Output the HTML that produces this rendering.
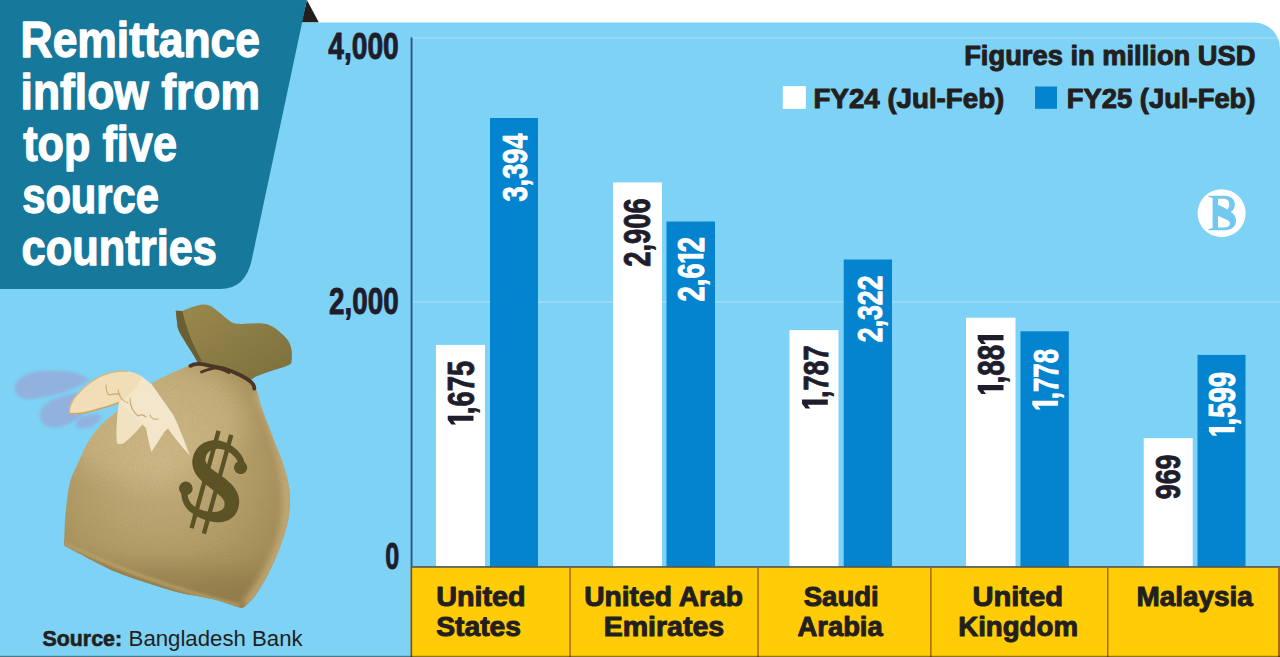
<!DOCTYPE html>
<html lang="en">
<head>
<meta charset="utf-8">
<title>Remittance inflow from top five source countries</title>
<style>
  html, body { margin: 0; padding: 0; background: #ffffff; }
  body { width: 1280px; height: 657px; overflow: hidden; position: relative;
         font-family: "Liberation Sans", sans-serif; }
  svg { display: block; position: absolute; left: 0; top: 0; }
  text { font-family: "Liberation Sans", sans-serif; }
  .num { font-weight: bold; font-size: 36px; stroke-width: 0.9px; stroke-linejoin: round; }
  .dk { fill: #1f1d2b; stroke: #1f1d2b; }
  .wh { fill: #ffffff; stroke: #ffffff; }
  .lab { font-weight: bold; font-size: 27.5px; fill: #231f20; stroke: #231f20; stroke-width: 1.0px; stroke-linejoin: round; }
  .ttl { font-weight: bold; font-size: 50px; fill: #ffffff; stroke: #ffffff; stroke-width: 1.3px; stroke-linejoin: round; }
</style>
</head>
<body>
<svg width="1280" height="657" viewBox="0 0 1280 657">
  <defs>
    <radialGradient id="bagG" cx="0.42" cy="0.40" r="0.70">
      <stop offset="0" stop-color="#c7b282"/>
      <stop offset="0.55" stop-color="#b39d68"/>
      <stop offset="1" stop-color="#9e8753"/>
    </radialGradient>
    <linearGradient id="neckG" x1="0" y1="0" x2="1" y2="1">
      <stop offset="0" stop-color="#9a8a4e"/>
      <stop offset="1" stop-color="#7c6f3d"/>
    </linearGradient>
    <filter id="blur12" x="-30%" y="-30%" width="160%" height="160%"><feGaussianBlur stdDeviation="12"/></filter>
    <filter id="blur4" x="-30%" y="-30%" width="160%" height="160%"><feGaussianBlur stdDeviation="3.5"/></filter>
    <filter id="blur2" x="-30%" y="-30%" width="160%" height="160%"><feGaussianBlur stdDeviation="1.6"/></filter>
    <filter id="burlap" x="0" y="0" width="100%" height="100%">
      <feTurbulence type="fractalNoise" baseFrequency="0.9 0.45" numOctaves="2" seed="7" result="n"/>
      <feColorMatrix type="matrix" values="0 0 0 0 0.25  0 0 0 0 0.2  0 0 0 0 0.08  0 0 0 1.6 -0.55"/>
    </filter>
    <clipPath id="bagClip"><path d="M63.7,544.7 C63.8,543.6 64.1,541.5 64.3,538.0 C64.5,534.5 64.5,529.4 64.9,523.4 C65.3,517.4 65.9,509.1 66.8,502.0 C67.7,494.9 68.5,487.5 70.4,480.8 C72.4,474.1 75.5,468.6 78.5,462.0 C81.5,455.4 84.5,447.9 88.5,441.5 C92.5,435.1 97.5,428.7 102.5,423.5 C107.5,418.3 112.8,415.0 118.5,410.5 C124.2,406.0 131.4,401.0 137.0,396.5 C142.6,392.0 147.3,386.8 152.0,383.5 C156.7,380.2 160.7,378.7 165.0,376.5 C169.3,374.3 173.7,372.3 178.0,370.5 C182.3,368.7 186.0,366.3 191.0,365.5 C196.0,364.7 202.5,365.0 208.0,365.5 C213.5,366.0 218.7,366.9 224.0,368.5 C229.3,370.1 235.0,372.2 240.0,375.0 C245.0,377.8 250.6,379.7 254.2,385.2 C257.8,390.7 258.6,399.1 261.8,408.0 C265.0,416.9 269.6,429.0 273.2,438.5 C276.8,448.0 280.8,456.2 283.5,465.1 C286.2,474.0 288.8,482.8 289.6,491.7 C290.4,500.6 289.9,509.5 288.4,518.4 C286.9,527.3 284.0,536.1 280.8,545.0 C277.6,553.9 273.5,563.4 269.4,571.6 C265.3,579.9 259.7,589.0 256.0,594.5 C252.3,600.0 249.2,602.3 247.0,604.5 C244.8,606.7 243.5,607.2 242.8,607.8 C242.0,607.7 242.1,608.2 238.0,607.0 C233.9,605.8 224.3,602.2 218.0,600.5 C211.7,598.8 206.8,597.9 200.0,596.5 C193.2,595.1 185.8,594.2 176.9,591.9 C168.0,589.6 156.7,586.0 146.5,582.7 C136.3,579.4 126.2,576.3 116.0,572.0 C105.8,567.7 93.8,561.1 85.6,556.9 C77.4,552.7 70.7,549.0 67.0,547.0 C63.4,545.0 64.2,545.1 63.7,544.7 Z"/></clipPath>
  </defs>

  <!-- BACKGROUND -->
  <rect x="0" y="0" width="1280" height="657" fill="#ffffff"/>
  <path d="M0,22.4 H1254 A26,26 0 0 1 1280,48.4 V657 H0 Z" fill="#7dd2f6"/>

  <!-- GRIDLINES -->
  <rect x="412" y="37.3" width="865" height="1.4" fill="#a2ddf8"/>
  <rect x="412" y="301.3" width="868" height="1.4" fill="#a2ddf8"/>

  <!-- TITLE PANEL -->
  <path d="M301.5,22.3 L306.9,0 L318.8,22.3 Z" fill="#231f20"/>
  <path d="M0,0 H306.9 L251.9,259 Q245.9,289 220,289 H0 Z" fill="#16789a"/>
  <g class="ttl">
    <text x="20.6" y="56.6"  textLength="239.4" lengthAdjust="spacingAndGlyphs">Remittance</text>
    <text x="20.6" y="108.6" textLength="239.4"   lengthAdjust="spacingAndGlyphs">inflow from</text>
    <text x="23.2" y="160.6" textLength="153.8" lengthAdjust="spacingAndGlyphs">top five</text>
    <text x="22.2" y="212.6" textLength="136.8" lengthAdjust="spacingAndGlyphs">source</text>
    <text x="21.6" y="264.6" textLength="195.4" lengthAdjust="spacingAndGlyphs">countries</text>
  </g>

  <!-- MONEYBAG (placeholder, refined later) -->
  <g id="bag">
    <!-- wing motion shadows -->
    <g fill="#a09acb" opacity="0.56" filter="url(#blur2)">
      <path d="M14.5,389 C13,379 30,370.5 47,370.5 C66,370 84,373 89,380 C80,387 62,394 45,397 C30,400 17,402 14.5,389 Z"/>
      <path d="M40,417 C38,408 50,399 62,396 C74,392 92,392 96,397 C92,408 80,420 66,425 C54,430 42,428 40,417 Z"/>
      <path d="M76,426 C74,420 84,415 95,414 C100,414 102,416 100,420 C96,426 80,432 76,426 Z"/>
    </g>
    <!-- flap / neck -->
    <path d="M175.7,310.7 L182.4,311 C188,309 196,305 203.2,304.6 C208,304.5 211,306 214.3,308.6
             C219,312 223,316 227.1,319 C230,321.5 233,323.5 236.7,323.8 C245,324.3 254,323 262.3,323.4
             C266,323.6 269,324.5 271.9,326.2 C276,328.5 279,331 281.5,333.4 C285,336.5 288,339.5 289.5,343
             C291,347 292,350 291.9,354.1 C291.8,358 292,361 291,363.7 C288,365.5 285,366.6 281.5,367.7
             L268.7,371.7 L255.9,376.5 L251,380 L200,363 C194,353 187,345 184,339.8 C180,334 178.5,331 177.6,327 Z"
          fill="url(#neckG)"/>
    <path d="M175.7,310.7 L182.4,311 C186,328 194,348 202,361 L198,363 C192,352 186,344 183,338 C180,333 178.5,330.5 177.6,327 Z" fill="#6a5f33"/>
    <!-- body -->
    <path id="bagBody" d="M63.7,544.7 C63.8,543.6 64.1,541.5 64.3,538.0 C64.5,534.5 64.5,529.4 64.9,523.4 C65.3,517.4 65.9,509.1 66.8,502.0 C67.7,494.9 68.5,487.5 70.4,480.8 C72.4,474.1 75.5,468.6 78.5,462.0 C81.5,455.4 84.5,447.9 88.5,441.5 C92.5,435.1 97.5,428.7 102.5,423.5 C107.5,418.3 112.8,415.0 118.5,410.5 C124.2,406.0 131.4,401.0 137.0,396.5 C142.6,392.0 147.3,386.8 152.0,383.5 C156.7,380.2 160.7,378.7 165.0,376.5 C169.3,374.3 173.7,372.3 178.0,370.5 C182.3,368.7 186.0,366.3 191.0,365.5 C196.0,364.7 202.5,365.0 208.0,365.5 C213.5,366.0 218.7,366.9 224.0,368.5 C229.3,370.1 235.0,372.2 240.0,375.0 C245.0,377.8 250.6,379.7 254.2,385.2 C257.8,390.7 258.6,399.1 261.8,408.0 C265.0,416.9 269.6,429.0 273.2,438.5 C276.8,448.0 280.8,456.2 283.5,465.1 C286.2,474.0 288.8,482.8 289.6,491.7 C290.4,500.6 289.9,509.5 288.4,518.4 C286.9,527.3 284.0,536.1 280.8,545.0 C277.6,553.9 273.5,563.4 269.4,571.6 C265.3,579.9 259.7,589.0 256.0,594.5 C252.3,600.0 249.2,602.3 247.0,604.5 C244.8,606.7 243.5,607.2 242.8,607.8 C242.0,607.7 242.1,608.2 238.0,607.0 C233.9,605.8 224.3,602.2 218.0,600.5 C211.7,598.8 206.8,597.9 200.0,596.5 C193.2,595.1 185.8,594.2 176.9,591.9 C168.0,589.6 156.7,586.0 146.5,582.7 C136.3,579.4 126.2,576.3 116.0,572.0 C105.8,567.7 93.8,561.1 85.6,556.9 C77.4,552.7 70.7,549.0 67.0,547.0 C63.4,545.0 64.2,545.1 63.7,544.7 Z" fill="url(#bagG)"/>
    <!-- lighting overlays -->
    <g clip-path="url(#bagClip)">
      <ellipse cx="150" cy="420" rx="95" ry="62" fill="#d3bd8c" opacity="0.55" filter="url(#blur12)"/>
      <ellipse cx="160" cy="600" rx="150" ry="34" fill="#7a6434" opacity="0.34" filter="url(#blur12)"/>
      <path d="M258,392 C280,440 296,490 282,540 C272,570 256,592 246,606" fill="none" stroke="#d0b583" stroke-width="9" opacity="0.8" filter="url(#blur4)"/>
      <path d="M64,545 C100,562 160,588 240,607" fill="none" stroke="#bfa66c" stroke-width="6" opacity="0.8" filter="url(#blur2)"/>
      <path d="M63,546.5 C100,565 160,590 243,609.5" fill="none" stroke="#5f4d28" stroke-width="2.2" opacity="0.55" filter="url(#blur2)"/>
      <rect x="55" y="360" width="245" height="255" fill="#000" opacity="0.16" filter="url(#burlap)"/>
    </g>
    <!-- rope -->
    <path d="M190.4,365.8 C196,362.5 203,364 208,365.3 C214,366.8 219,367.5 224,368.5 C230,370.5 235,372.5 240,375 C245,377.5 249,380 251.5,382.5 C254,385 254.5,387 254.3,388.5" fill="none" stroke="#4b3524" stroke-width="3.8" stroke-linecap="round"/>
    <path d="M201.5,372 C205,370 209,369.3 213,368.3 C219,367.3 224,370 229,372.5" fill="none" stroke="#4b3524" stroke-width="2.8" stroke-linecap="round"/>
    <!-- dollar sign -->
    <g transform="translate(211.3,481.8) rotate(15.5)" fill="#5b5226" stroke="none">
      <path d="M28.1,-23.3 L27.8,-24.5 L27.5,-25.8 L27.0,-27.1 L26.3,-28.3 L25.6,-29.5 L24.8,-30.6 L23.9,-31.6 L23.0,-32.6 L21.9,-33.6 L20.8,-34.5 L19.7,-35.4 L18.4,-36.2 L17.2,-37.0 L15.9,-37.7 L14.5,-38.4 L13.1,-39.0 L11.7,-39.6 L10.2,-40.1 L8.7,-40.6 L7.2,-41.0 L5.7,-41.3 L4.1,-41.6 L2.6,-41.8 L1.0,-41.9 L-0.6,-41.9 L-2.1,-41.9 L-3.6,-41.8 L-5.2,-41.6 L-6.6,-41.3 L-8.1,-40.9 L-9.5,-40.5 L-10.9,-39.9 L-12.2,-39.3 L-13.5,-38.6 L-14.7,-37.8 L-15.9,-37.0 L-17.1,-36.0 L-18.1,-35.0 L-19.1,-33.9 L-20.1,-32.7 L-20.9,-31.5 L-21.7,-30.2 L-22.4,-28.8 L-22.9,-27.3 L-23.4,-25.8 L-23.8,-24.3 L-24.1,-22.6 L-24.2,-21.0 L-24.3,-19.0 L-24.2,-17.0 L-23.9,-15.1 L-23.4,-13.3 L-22.7,-11.5 L-22.0,-9.9 L-21.1,-8.3 L-20.1,-6.8 L-19.0,-5.5 L-17.8,-4.2 L-16.6,-3.1 L-15.4,-2.0 L-14.1,-1.1 L-12.8,-0.2 L-11.5,0.6 L-10.2,1.4 L-8.9,2.1 L-7.7,2.7 L-6.4,3.3 L-5.2,3.8 L-4.1,4.3 L-2.9,4.8 L-1.9,5.2 L-0.9,5.6 L0.3,6.1 L1.6,6.7 L2.9,7.2 L4.2,7.7 L5.5,8.2 L6.8,8.7 L8.0,9.2 L9.2,9.8 L10.3,10.3 L11.4,10.8 L12.4,11.3 L13.3,11.8 L14.2,12.4 L15.0,12.9 L15.6,13.4 L16.3,13.9 L16.8,14.4 L17.3,14.9 L17.7,15.5 L18.0,16.0 L18.3,16.6 L18.6,17.3 L18.8,18.1 L19.0,19.1 L19.1,19.6 L19.1,20.2 L19.1,20.8 L19.0,21.3 L18.9,21.8 L18.8,22.3 L18.5,22.8 L18.3,23.3 L17.9,23.8 L17.5,24.3 L17.0,24.8 L16.4,25.3 L15.8,25.9 L15.0,26.4 L14.2,26.8 L13.3,27.3 L12.4,27.7 L11.3,28.1 L10.2,28.5 L9.1,28.8 L7.9,29.1 L6.6,29.3 L5.3,29.5 L4.0,29.6 L2.4,29.7 L0.8,29.8 L-0.7,29.8 L-2.3,29.7 L-3.7,29.6 L-5.2,29.4 L-6.6,29.1 L-7.9,28.8 L-9.2,28.4 L-10.4,27.9 L-11.6,27.4 L-12.7,26.8 L-13.7,26.2 L-14.7,25.4 L-15.6,24.6 L-16.4,23.8 L-17.1,22.8 L-17.8,21.8 L-18.5,20.7 L-19.0,19.5 L-19.5,18.2 L-19.9,16.8 L-20.2,15.3 L-20.4,13.6 L-26.6,14.4 L-26.3,16.3 L-25.9,18.3 L-25.4,20.1 L-24.8,21.9 L-24.1,23.5 L-23.2,25.1 L-22.3,26.5 L-21.2,27.9 L-20.1,29.2 L-18.9,30.4 L-17.6,31.5 L-16.2,32.4 L-14.8,33.3 L-13.3,34.2 L-11.7,34.9 L-10.1,35.5 L-8.5,36.1 L-6.8,36.6 L-5.1,37.1 L-3.3,37.4 L-1.5,37.8 L0.3,38.0 L2.1,38.2 L4.0,38.4 L5.6,38.5 L7.3,38.5 L8.9,38.5 L10.5,38.4 L12.1,38.2 L13.7,38.0 L15.2,37.7 L16.8,37.4 L18.3,36.9 L19.7,36.4 L21.2,35.8 L22.6,35.2 L23.9,34.4 L25.2,33.5 L26.5,32.5 L27.6,31.4 L28.7,30.2 L29.7,28.9 L30.6,27.4 L31.4,25.9 L32.0,24.3 L32.5,22.6 L32.8,20.8 L33.0,18.9 L33.0,16.8 L32.8,14.6 L32.4,12.5 L31.8,10.4 L31.0,8.5 L30.1,6.7 L29.0,5.0 L27.7,3.4 L26.4,2.0 L25.1,0.7 L23.6,-0.5 L22.2,-1.6 L20.7,-2.6 L19.2,-3.5 L17.7,-4.3 L16.2,-5.1 L14.7,-5.8 L13.2,-6.5 L11.7,-7.1 L10.3,-7.6 L8.9,-8.2 L7.5,-8.7 L6.3,-9.1 L4.9,-9.6 L3.8,-10.0 L2.8,-10.4 L1.7,-10.7 L0.7,-11.1 L-0.3,-11.4 L-1.3,-11.8 L-2.3,-12.2 L-3.2,-12.6 L-4.2,-13.0 L-5.0,-13.4 L-5.9,-13.8 L-6.6,-14.2 L-7.3,-14.6 L-8.0,-15.1 L-8.6,-15.5 L-9.1,-16.0 L-9.6,-16.4 L-10.0,-16.9 L-10.4,-17.4 L-10.8,-18.0 L-11.1,-18.6 L-11.4,-19.3 L-11.6,-20.1 L-11.8,-21.0 L-11.8,-21.8 L-11.9,-22.6 L-11.9,-23.4 L-11.8,-24.1 L-11.7,-24.9 L-11.5,-25.6 L-11.3,-26.3 L-11.0,-27.0 L-10.6,-27.6 L-10.3,-28.3 L-9.8,-28.9 L-9.3,-29.5 L-8.8,-30.1 L-8.2,-30.7 L-7.5,-31.2 L-6.8,-31.7 L-6.0,-32.2 L-5.1,-32.6 L-4.2,-33.0 L-3.3,-33.3 L-2.3,-33.6 L-1.2,-33.8 L-0.1,-34.0 L1.0,-34.1 L2.2,-34.2 L3.4,-34.2 L4.6,-34.1 L5.8,-33.9 L7.1,-33.7 L8.3,-33.5 L9.5,-33.1 L10.7,-32.8 L11.8,-32.3 L13.0,-31.8 L14.0,-31.3 L15.1,-30.7 L16.0,-30.1 L17.0,-29.5 L17.8,-28.8 L18.6,-28.1 L19.3,-27.4 L19.9,-26.7 L20.5,-26.0 L20.9,-25.2 L21.3,-24.5 L21.6,-23.8 L21.8,-23.1 L21.9,-22.3 Z"/>
      <circle cx="24.4" cy="-21.6" r="6.6"/>
      <circle cx="-22.8" cy="13.2" r="6.8"/>
      <rect x="-8.8" y="-51" width="4.4" height="101"/>
      <rect x="4.5" y="-50.5" width="4.4" height="102.5"/>
    </g>
    <!-- wing -->
    <g>
      <path d="M69.4,413.6 C69.3,406.5 72.5,399.5 77,394.8 C81.5,389.5 86.5,385 91.8,381.5 C97.5,377.5 103.5,374.6 110,372.9 C116,371.3 122,370.9 127.9,371.4
               C133,372 138,374 142.5,376.9 C146,379.5 149,382 151.6,384.2 C158,393 165,403 173.5,415.3 C179,427 184,440 190,455.8
               C181,446 174,437 168,428.5 L164.4,431.7 C160,439 155,446 151.6,452 C149,444 147.5,436 146,428 L142.5,424.4
               C137,431 131,437 124.2,442.7 C121.5,444.5 118.5,444.5 116.9,442.7 C116,430 117,416 119,402.5
               C113,405 107,407 100.5,408.5 C94,411 88,412.6 82.2,413.6 C78,414.4 73,414.6 69.4,413.6 Z" fill="#f4e6ca"/>
      <path d="M69.4,413.6 C69.3,406.5 72.5,399.5 77,394.8 C81.5,389.5 86.5,385 91.8,381.5 C97.5,377.5 103.5,374.6 110,372.9 C116,371.3 122,370.9 127.9,371.4 C133,372 138,374 142.5,376.9 C139,384 131,395 119,402.5 C113,405 107,407 100.5,408.5 C94,411 88,412.6 82.2,413.6 C78,414.4 73,414.6 69.4,413.6 Z" fill="#f1ddb6"/>
      <path d="M69.4,413.6 C69.3,406.5 72.5,399.5 77,394.8 C81.5,389.5 86.5,385 91.8,381.5 C97.5,377.5 103.5,374.6 110,372.9 C116,371.3 122,370.9 127.9,371.4" fill="none" stroke="#d8b77c" stroke-width="1.3"/>
      <path d="M69.4,413.6 C78,414.4 88,412.6 100.5,408.5 C107,407 113,405 119,402.5" fill="none" stroke="#c9a562" stroke-width="1.4"/>
      <path d="M106,385 C106,390 107,393 109,395 C113,394 116,393.5 120,394 M118,390 C119,397 122,401 128,403 M130,398 C130,406 133,412 138,416 C141,414 144,415 146,417 M150,415 C151,418 154,420 158,419" fill="none" stroke="#c9aa72" stroke-width="1.1" stroke-linecap="round"/>
      <path d="M119,402.5 C117,416 116,430 116.9,442.7 C121,444.5 124,443 124.2,442.7 C131,437 137,431 142.5,424.4" fill="#efdfbd" opacity="0.7"/>
    </g>
  </g>

  <!-- SOURCE -->
  <text x="42.5" y="645.6" font-size="22" font-weight="bold" fill="#231f20" stroke="#231f20" stroke-width="0.6" textLength="79.5" lengthAdjust="spacingAndGlyphs">Source:</text>
  <text x="128.6" y="645.6" font-size="22" fill="#231f20" textLength="174" lengthAdjust="spacingAndGlyphs">Bangladesh Bank</text>

  <!-- AXIS LABELS -->
  <g class="num dk">
    <text x="328.2" y="59.4"  textLength="70.6" lengthAdjust="spacingAndGlyphs">4,000</text>
    <text x="329" y="313.8" textLength="69.6"   lengthAdjust="spacingAndGlyphs">2,000</text>
    <text x="385.2" y="568.5" textLength="14.0" lengthAdjust="spacingAndGlyphs">0</text>
  </g>

  <!-- BARS -->
  <g fill="#ffffff">
    <rect x="436"  y="344.9" width="49" height="222"/>
    <rect x="613"  y="182.4" width="49" height="385"/>
    <rect x="789.5" y="330.1" width="49" height="237"/>
    <rect x="966"  y="317.7" width="49.5" height="249"/>
    <rect x="1143.7" y="438.1" width="49" height="129"/>
  </g>
  <g fill="#0484cf">
    <rect x="490"  y="118"   width="48" height="449"/>
    <rect x="666.5" y="221.5" width="48.5" height="346"/>
    <rect x="843.7" y="259.5" width="48.3" height="308"/>
    <rect x="1020.5" y="331.3" width="48.3" height="236"/>
    <rect x="1197.5" y="354.9" width="48" height="212"/>
  </g>

  <!-- AXIS LINE -->
  <rect x="410.6" y="37.5" width="1.9" height="530" fill="#2f5580"/>

  <!-- YELLOW BAND -->
  <rect x="411" y="567" width="868" height="90" fill="#ffcc06"/>
  <rect x="411" y="566.1" width="869" height="1.7" fill="#555a58"/>
  <g fill="#a8690f">
    <rect x="410.5" y="567" width="1.7" height="90" fill="#7a5a10"/>
    <rect x="569.3" y="567" width="1.5" height="90"/>
    <rect x="757.3" y="567" width="1.5" height="90"/>
    <rect x="930.1" y="567" width="1.5" height="90"/>
    <rect x="1107"  y="567" width="1.5" height="90"/>
    <rect x="1278" y="567" width="2" height="90"/>
  </g>

  <!-- COUNTRY LABELS -->
  <g class="lab">
    <text x="436.2" y="605.9" textLength="89.3" lengthAdjust="spacingAndGlyphs">United</text>
    <text x="436.2" y="636.4" textLength="84.8"   lengthAdjust="spacingAndGlyphs">States</text>
    <text x="584.2" y="605.9" textLength="158.8"  lengthAdjust="spacingAndGlyphs">United Arab</text>
    <text x="603.7"   y="636.4" textLength="120.5" lengthAdjust="spacingAndGlyphs">Emirates</text>
    <text x="803.7" y="605.9" textLength="75"   lengthAdjust="spacingAndGlyphs">Saudi</text>
    <text x="797.5" y="636.4" textLength="85.2" lengthAdjust="spacingAndGlyphs">Arabia</text>
    <text x="972.4" y="605.9" textLength="90.6" lengthAdjust="spacingAndGlyphs">United</text>
    <text x="958.2" y="636.4" textLength="119.8"  lengthAdjust="spacingAndGlyphs">Kingdom</text>
    <text x="1136.4" y="605.9" textLength="116.5" lengthAdjust="spacingAndGlyphs">Malaysia</text>
  </g>

  <!-- HEADER + LEGEND -->
  <g class="lab">
    <text x="964.2" y="65.3" textLength="291.3" lengthAdjust="spacingAndGlyphs">Figures in million USD</text>
    <text x="813.5" y="108" textLength="190.8" lengthAdjust="spacingAndGlyphs">FY24 (Jul-Feb)</text>
    <text x="1066.7" y="108" textLength="188.8" lengthAdjust="spacingAndGlyphs">FY25 (Jul-Feb)</text>
  </g>
  <rect x="782.8" y="86.1" width="23" height="22.8" fill="#ffffff"/>
  <rect x="1035" y="86.5" width="22" height="22.3" fill="#0484cf"/>


  <!-- BS LOGO -->
  <g transform="translate(1197.6,189.2)">
    <circle cx="24" cy="24" r="24" fill="#ffffff"/>
    <path fill="#72c8f1" fill-rule="evenodd" d="M10.9,6.6 H27 C33.5,6.6 37.2,10.2 37.2,15.2 C37.2,19 35.5,21.4 33,22.8 C36.5,24.6 38.4,27.6 38.4,31.6 C38.4,37.6 33.8,41 27,41 H10.9 V40 L15,38.8 V8.8 L10.9,7.6 Z
      M20.4,9.6 H26 C29.8,9.6 31.6,12 31.6,15 C31.6,17.4 31,19 29.8,20.2 C27,18.8 23.5,17 20.4,15.6 Z
      M20.4,26.8 C24,28.2 28,29.8 30.6,31.4 C32.2,32.6 32.6,34 32.2,35.4 C31.4,37.4 29.4,38.2 27,38.2 H20.4 Z"/>
  </g>
  <!-- BAR VALUE LABELS (rotated) -->
  <g class="num">
    <g class="dk" transform="translate(473.5,361.3) rotate(-90)"><path d="M9.7,0 L9.7,-25.8 L5.5,-25.8 L0.8,-22.1 L0.8,-17.5 L4.5,-20.3 L4.5,0 Z" transform="translate(-64.07,0)" stroke="none"/><text transform="translate(-52.87,0) scale(0.762,1)">,675</text></g>
    <g class="wh" transform="translate(527.2,133.8) rotate(-90)"><text transform="translate(-67.76,0) scale(0.758,1)">3,394</text></g>
    <g class="dk" transform="translate(649.6,198.8) rotate(-90)"><text transform="translate(-67.85,0) scale(0.759,1)">2,906</text></g>
    <g class="wh" transform="translate(703.6,237.4) rotate(-90)"><text transform="translate(-64.07,0) scale(0.762,1)">2,6</text><path d="M9.7,0 L9.7,-25.8 L5.5,-25.8 L0.8,-22.1 L0.8,-17.5 L4.5,-20.3 L4.5,0 Z" transform="translate(-25.94,0)" stroke="none"/><text transform="translate(-14.74,0) scale(0.762,1)">2</text></g>
    <g class="dk" transform="translate(827.8,345.9) rotate(-90)"><path d="M9.7,0 L9.7,-25.8 L5.5,-25.8 L0.8,-22.1 L0.8,-17.5 L4.5,-20.3 L4.5,0 Z" transform="translate(-63.31,0)" stroke="none"/><text transform="translate(-52.11,0) scale(0.751,1)">,787</text></g>
    <g class="wh" transform="translate(881.5,276.0) rotate(-90)"><text transform="translate(-66.17,0) scale(0.74,1)">2,322</text></g>
    <g class="dk" transform="translate(1003.5,335.2) rotate(-90)"><path d="M9.7,0 L9.7,-25.8 L5.5,-25.8 L0.8,-22.1 L0.8,-17.5 L4.5,-20.3 L4.5,0 Z" transform="translate(-59.48,0)" stroke="none"/><text transform="translate(-48.28,0) scale(0.775,1)">,88</text><path d="M9.7,0 L9.7,-25.8 L5.5,-25.8 L0.8,-22.1 L0.8,-17.5 L4.5,-20.3 L4.5,0 Z" transform="translate(-9.50,0)" stroke="none"/></g>
    <g class="wh" transform="translate(1058.1,349.5) rotate(-90)"><path d="M9.7,0 L9.7,-25.8 L5.5,-25.8 L0.8,-22.1 L0.8,-17.5 L4.5,-20.3 L4.5,0 Z" transform="translate(-60.84,0)" stroke="none"/><text transform="translate(-49.64,0) scale(0.715,1)">,778</text></g>
    <g class="dk" transform="translate(1180.0,455.0) rotate(-90)"><text transform="translate(-44.24,0) scale(0.745,1)">969</text></g>
    <g class="wh" transform="translate(1234.7,372.3) rotate(-90)"><path d="M9.7,0 L9.7,-25.8 L5.5,-25.8 L0.8,-22.1 L0.8,-17.5 L4.5,-20.3 L4.5,0 Z" transform="translate(-64.34,0)" stroke="none"/><text transform="translate(-53.14,0) scale(0.766,1)">,599</text></g>
  </g>

  <!-- BOTTOM LINE -->
  <rect x="0" y="655.8" width="1280" height="1.2" fill="#000000" opacity="0.42"/>
</svg>
</body>
</html>
